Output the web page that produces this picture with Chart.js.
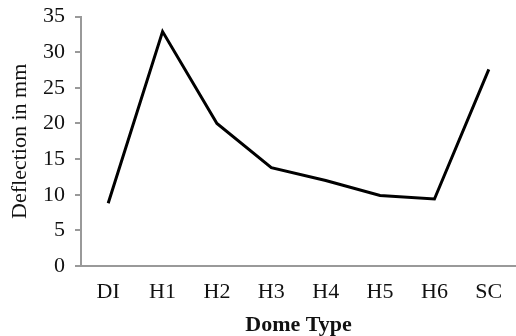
<!DOCTYPE html>
<html>
<head>
<meta charset="utf-8">
<script src="https://cdn.jsdelivr.net/npm/chart.js@4/dist/chart.umd.min.js"></script>
<style>
  html, body { margin: 0; padding: 0; background: #fff; }
  canvas { display: block; }
</style>
</head>
<body>
<canvas id="myChart" width="516" height="336"></canvas>
<script>
var domeTypes = ['DI', 'H1', 'H2', 'H3', 'H4', 'H5', 'H6', 'SC'];
var deflection = [8.8, 32.9, 20.0, 13.8, 12.0, 9.9, 9.4, 27.6];
var yTicks = [0, 5, 10, 15, 20, 25, 30, 35];

var ctx = document.getElementById('myChart').getContext('2d');
var myChart = new Chart(ctx, {
    type: 'line',
    data: {
        labels: domeTypes,
        datasets: [{
            label: 'Deflection in mm',
            data: deflection,
            borderColor: '#000',
            backgroundColor: 'transparent',
            borderWidth: 3,
            pointRadius: 0,
            tension: 0
        }]
    },
    options: {
        responsive: false,
        animation: false,
        layout: { padding: { top: 0, right: 0, left: 9, bottom: 0 } },
        plugins: {
            legend: { display: false },
            tooltip: { enabled: false }
        },
        scales: {
            x: {
                offset: true,
                grid: { display: false },
                border: { display: true, color: '#999', width: 2 },
                ticks: {
                    color: '#111',
                    padding: 7,
                    maxRotation: 0,
                    font: { family: 'Liberation Serif', size: 22, lineHeight: 1 }
                },
                title: {
                    display: true,
                    text: 'Dome Type',
                    color: '#111',
                    padding: { top: 4, bottom: 0 },
                    font: { family: 'Liberation Serif', size: 22, weight: 'bold', lineHeight: 1 }
                }
            },
            y: {
                min: 0,
                max: 35,
                afterBuildTicks: function(axis) {
                    axis.ticks = yTicks.map(function(v) { return { value: v }; });
                },
                grid: {
                    drawOnChartArea: false,
                    drawTicks: true,
                    tickLength: 6,
                    color: '#999',
                    lineWidth: 2
                },
                border: { display: true, color: '#999', width: 2 },
                ticks: {
                    color: '#111',
                    padding: 10,
                    font: { family: 'Liberation Serif', size: 22, lineHeight: 0.6 }
                },
                title: {
                    display: true,
                    text: 'Deflection in mm',
                    color: '#111',
                    padding: { top: 0, bottom: 2 },
                    font: { family: 'Liberation Serif', size: 22, lineHeight: 1 }
                }
            }
        }
    }
});
</script>
</body>
</html>
